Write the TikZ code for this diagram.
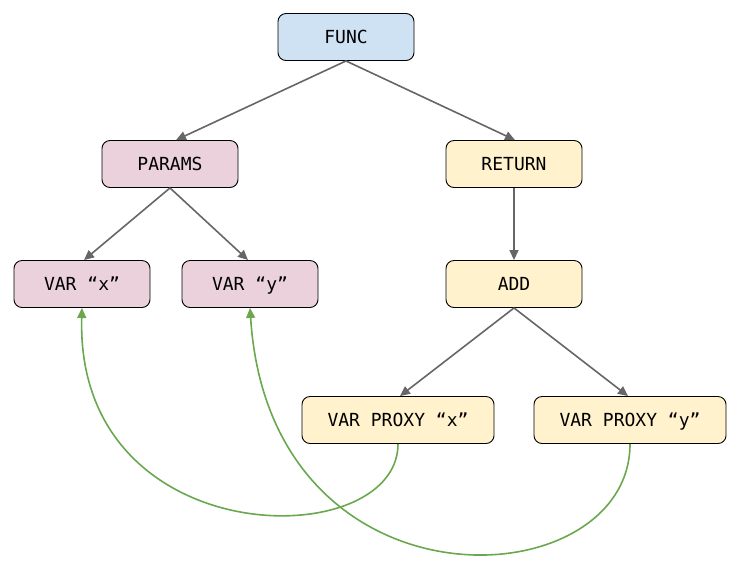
\documentclass[tikz,border=0pt]{standalone}
\usepackage{fontspec}
\setmonofont{DejaVu Sans Mono}
\usetikzlibrary{arrows.meta}
\definecolor{fblue}{HTML}{CFE2F3}
\definecolor{fpink}{HTML}{EAD1DC}
\definecolor{fyel}{HTML}{FFF2CC}
\definecolor{agrey}{HTML}{666666}
\definecolor{agreen}{HTML}{6AA84F}
\begin{document}
\begin{tikzpicture}[x=1pt,y=-1pt,
  box/.style={draw=black, line width=0.9pt, rounded corners=8pt, minimum height=47pt,
    font=\ttfamily\fontsize{18}{20}\selectfont, inner sep=0pt, text height=13pt, text depth=0pt},
  small/.style={box, minimum width=136pt},
  wide/.style={box, minimum width=192pt},
  edge/.style={draw=agrey, line width=1.6pt, -{Triangle[length=10pt,width=9pt]}},
  link/.style={draw=agreen, line width=1.6pt, -{Triangle[length=10pt,width=9pt]}}]
\useasboundingbox (0,0) rectangle (735,574);
\node[small, fill=fblue] (func) at (346,37) {FUNC};
\node[small, fill=fpink] (params) at (170,164) {PARAMS};
\node[small, fill=fyel] (ret) at (514,164) {RETURN};
\node[small, fill=fpink] (vx) at (82,284) {VAR “x”};
\node[small, fill=fpink] (vy) at (250,284) {VAR “y”};
\node[small, fill=fyel] (add) at (514,284) {ADD};
\node[wide, fill=fyel] (px) at (398,420) {VAR PROXY “x”};
\node[wide, fill=fyel] (py) at (630,420) {VAR PROXY “y”};
\draw[edge] (func.south) -- ([xshift=6pt]params.north);
\draw[edge] (func.south) -- ([xshift=1pt]ret.north);
\draw[edge] (params.south) -- ([xshift=2pt]vx.north);
\draw[edge] (params.south) -- ([xshift=-2pt]vy.north);
\draw[edge] (ret.south) -- (add.north);
\draw[edge] (add.south) -- ([xshift=2pt]px.north);
\draw[edge] (add.south) -- ([xshift=-2pt]py.north);
\draw[link] (px.south) .. controls (398,555) and (75,555) .. (vx.south);
\draw[link] (py.south) .. controls (630,600) and (270,620) .. (vy.south);
\end{tikzpicture}
\end{document}
